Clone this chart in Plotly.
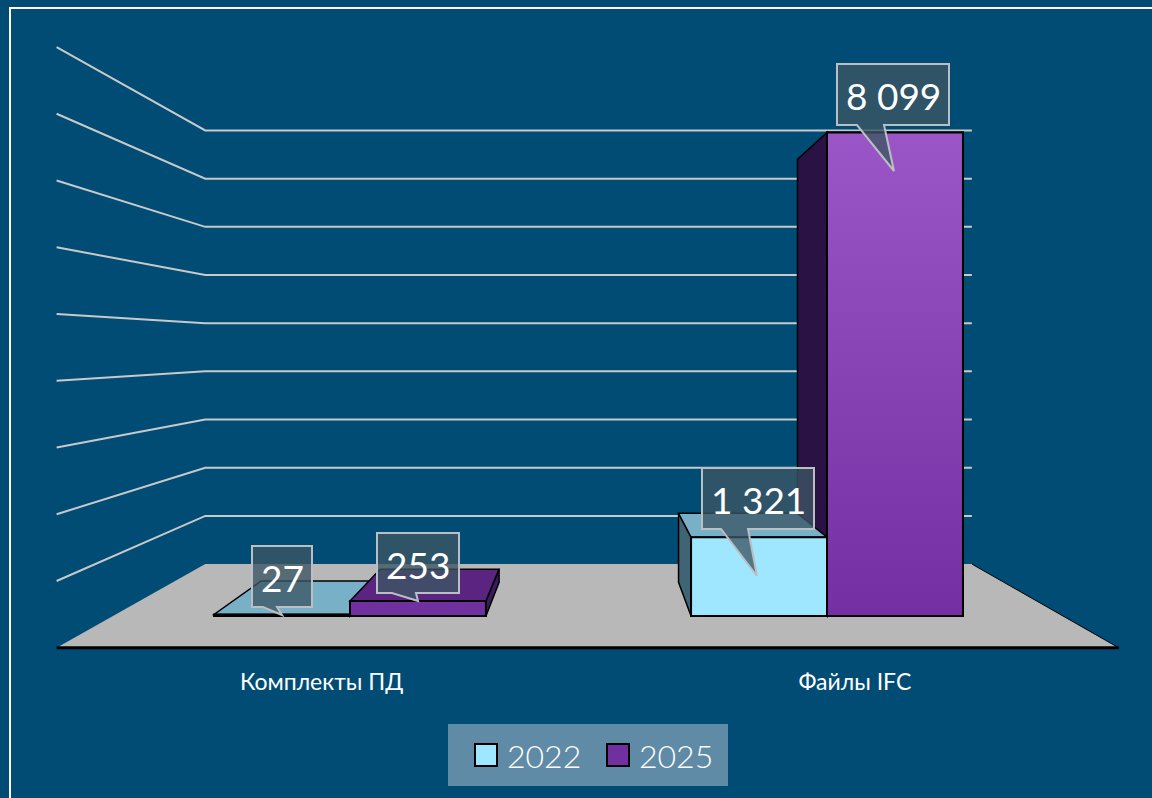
import plotly.graph_objects as go

# ---- data ----
categories = ["Комплекты ПД", "Файлы IFC"]
series_names = ["2022", "2025"]
values_2022 = [27, 1321]
values_2025 = [253, 8099]
data_labels_2022 = ["27", "1 321"]
data_labels_2025 = ["253", "8 099"]
grid_values = [1000, 2000, 3000, 4000, 5000, 6000, 7000, 8000, 9000]

# ---- style / geometry ----
W, H = 1152, 798
PLOT_BOTTOM = 666
PX_PER_X, PX_X0 = 477.0, 350.0
PX_PER_V, PX_V0 = 0.0597, 616.0
BAR_W = 0.285
VAN_X = (591 - PX_X0) / PX_PER_X
VAN_V = (PX_V0 - 347) / PX_PER_V
F_BACK, F_FRONT, F_BAR = 0.807, 1.118, 0.875
WALL_L = (113 - PX_X0) / PX_PER_X
WALL_R = (1063 - PX_X0) / PX_PER_X
BG = "#004c74"
FONT = "Lato, Carlito, 'Noto Sans', sans-serif"
C_FRONT = ["#9fe6ff", "#7030a0"]
C_TOP = ["#78b0c8", "#5a2480"]
C_SIDE = ["#3f6475", "#3d1a60"]
C_SIDE_TALL = "#2b1245"


def proj(x, v, f):
    return VAN_X + (x - VAN_X) * f, VAN_V + (v - VAN_V) * f


def px(x):
    return x / W


def py(y):
    return (PLOT_BOTTOM - y) / PLOT_BOTTOM


def poly_data(points):
    return "M" + "L".join(f"{x},{y}" for x, y in points) + "Z"


shapes = []


def add_poly(points, fill, line="black", width=1.5):
    shapes.append(dict(type="path", xref="x", yref="y", layer="below",
                       path=poly_data(points), fillcolor=fill,
                       line=dict(color=line, width=width)))


# gridlines
for g in grid_values:
    a = proj(WALL_L, g, F_FRONT)
    b = proj(WALL_L, g, F_BACK)
    c = proj(WALL_R, g, F_BACK)
    shapes.append(dict(type="path", xref="x", yref="y", layer="below",
                       path=f"M{a[0]},{a[1]}L{b[0]},{b[1]}L{c[0]},{c[1]}",
                       line=dict(color="#c9c9c9", width=2)))

# floor
fl = [proj(WALL_L, 0, F_FRONT), proj(WALL_L, 0, F_BACK),
      proj(WALL_R, 0, F_BACK), proj(WALL_R, 0, F_FRONT)]
shapes.append(dict(type="path", xref="x", yref="y", layer="below",
                   path=poly_data(fl), fillcolor="#b8b8b8", line=dict(width=0)))
for p, q, w in [(fl[2], fl[3], 1), (fl[0], fl[3], 3)]:
    shapes.append(dict(type="line", xref="x", yref="y", layer="below",
                       x0=p[0], y0=p[1], x1=q[0], y1=q[1],
                       line=dict(color="black", width=w)))

# bar depth faces (drawn under the front faces)
series = [values_2022, values_2025]
draw_order = [(0, 0), (0, 1), (1, 1), (1, 0)]
for cat, s in draw_order:
    v = series[s][cat]
    x0 = cat - BAR_W if s == 0 else cat
    x1 = x0 + BAR_W
    side_x = x0 if x0 > VAN_X else x1
    side_col = C_SIDE_TALL if v > VAN_V else C_SIDE[s]
    add_poly([proj(side_x, 0, 1), proj(side_x, v, 1),
              proj(side_x, v, F_BAR), proj(side_x, 0, F_BAR)], side_col)
    if v < VAN_V:
        add_poly([proj(x0, v, 1), proj(x1, v, 1),
                  proj(x1, v, F_BAR), proj(x0, v, F_BAR)], C_TOP[s])

fig = go.Figure()
fig.add_bar(name=series_names[0], x=[0, 1], y=values_2022, width=BAR_W, offset=-BAR_W,
            marker=dict(color=C_FRONT[0], line=dict(color="black", width=2)))
fig.add_bar(name=series_names[1], x=[0, 1], y=values_2025, width=BAR_W, offset=0,
            marker=dict(color=C_FRONT[1], line=dict(color="black", width=2)))
# gradient on the tall front face
tall = values_2025[1]
fig.add_scatter(x=[1, 1, 1 + BAR_W, 1 + BAR_W, 1], y=[0, tall, tall, 0, 0], mode="lines",
                fill="toself", line=dict(color="black", width=2), hoverinfo="skip",
                fillgradient=dict(type="vertical",
                                  colorscale=[[0, "#7430a2"], [1, "#9a56c6"]]))

# frame
shapes.append(dict(type="path", xref="paper", yref="paper", layer="above",
                   path=f"M{px(10)},{py(800)}L{px(10)},{py(8)}L{px(1154)},{py(8)}",
                   line=dict(color="white", width=2)))

# callouts
annotations = []
callouts = [
    (data_labels_2022[0], (252, 546, 312, 607), [(263, 607), (282, 615), (277, 607)], 282, 577),
    (data_labels_2025[0], (377, 533, 459, 593), [(392, 593), (418, 601), (416, 593)], 418, 564),
    (data_labels_2022[1], (702, 468, 814, 529), [(721, 529), (757, 576), (748, 529)], 758, 500),
    (data_labels_2025[1], (837, 64, 949, 125), [(857, 125), (894, 171), (884, 125)], 893, 96),
]
for text, (l, t, r, b), tail, cx, cy in callouts:
    pts = [(l, t), (r, t), (r, b), tail[2], tail[1], tail[0], (l, b)]
    shapes.append(dict(type="path", xref="paper", yref="paper", layer="above",
                       path=poly_data([(px(a), py(c)) for a, c in pts]),
                       fillcolor="rgba(60,86,100,0.78)",
                       line=dict(color="#b9bfc2", width=2)))
    annotations.append(dict(text=text, xref="paper", yref="paper", x=px(cx), y=py(cy),
                            showarrow=False, xanchor="center", yanchor="middle",
                            font=dict(family=FONT, size=37, color="white")))

# legend panel
shapes.append(dict(type="rect", xref="paper", yref="paper", layer="above",
                   x0=px(448), x1=px(728), y0=py(786), y1=py(724),
                   fillcolor="#5f8ba6", line=dict(width=0)))
for i, (l, r, cx) in enumerate([(475, 497, 543.5), (607, 629, 675.5)]):
    shapes.append(dict(type="rect", xref="paper", yref="paper", layer="above",
                       x0=px(l), x1=px(r), y0=py(766), y1=py(744),
                       fillcolor=C_FRONT[i], line=dict(color="black", width=2)))
    annotations.append(dict(text=series_names[i], xref="paper", yref="paper",
                            x=px(cx), y=py(755), showarrow=False,
                            xanchor="center", yanchor="middle",
                            font=dict(family=FONT, size=32, color="white", weight=300)))

tick_pos = [proj(c, 0, F_FRONT)[0] for c in range(len(categories))]

fig.update_layout(
    width=W, height=H, autosize=False,
    margin=dict(l=0, r=0, t=0, b=H - PLOT_BOTTOM, pad=0),
    paper_bgcolor=BG, plot_bgcolor="rgba(0,0,0,0)",
    showlegend=False, barmode="overlay",
    shapes=shapes, annotations=annotations,
    xaxis=dict(range=[-PX_X0 / PX_PER_X, (W - PX_X0) / PX_PER_X], showgrid=False,
               zeroline=False, showline=False, ticks="",
               tickmode="array", tickvals=tick_pos, ticktext=categories,
               tickfont=dict(family=FONT, size=23, color="white")),
    yaxis=dict(range=[(PX_V0 - PLOT_BOTTOM) / PX_PER_V, PX_V0 / PX_PER_V], visible=False),
)
fig.write_html("out.html", config=dict(displayModeBar=False),
               post_script="document.body.style.margin='0';document.body.style.overflow='hidden';")
